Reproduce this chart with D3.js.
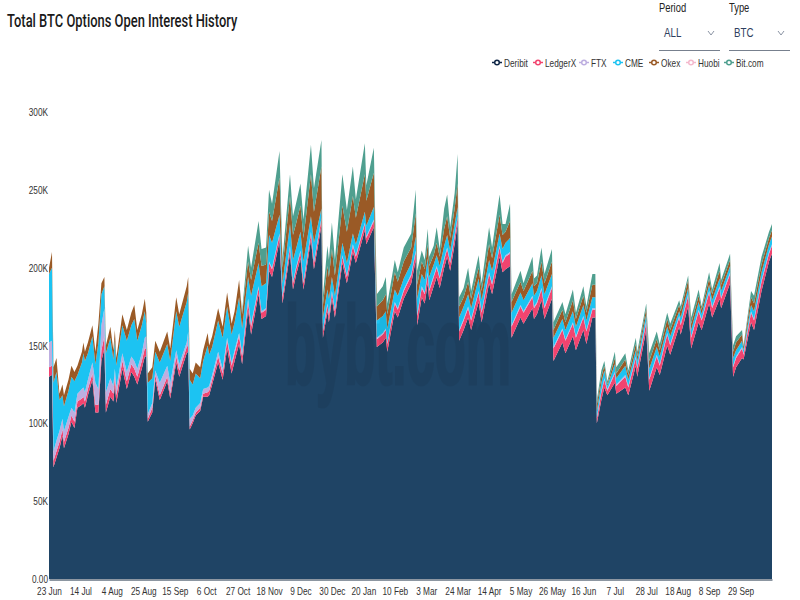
<!DOCTYPE html>
<html><head><meta charset="utf-8">
<style>html,body{margin:0;padding:0;background:#fff}svg{display:block}text{font-family:"Liberation Sans",sans-serif}</style>
<script src="https://cdnjs.cloudflare.com/ajax/libs/d3/7.8.5/d3.min.js"></script>
</head><body><svg id="c" width="800" height="600"></svg>
<script>
const tickLabels=["23 Jun","14 Jul","4 Aug","25 Aug","15 Sep","6 Oct","27 Oct","18 Nov","9 Dec","30 Dec","20 Jan","10 Feb","3 Mar","24 Mar","14 Apr","5 May","26 May","16 Jun","7 Jul","28 Jul","18 Aug","8 Sep","29 Sep"];
const yTicks=[0,50,100,150,200,250,300];
const seriesNames=["Deribit","LedgerX","FTX","CME","Okex","Huobi","Bit.com"];
const dayIndex=[0,2,3,5,7,9,10,13,15,17,
19,22,23,24,26,29,31,33,35,37,
38,41,43,44,45,49,52,55,57,59,
62,64,65,66,69,71,74,79,81,85,
87,92,93,94,96,98,101,103,106,107,
109,113,116,119,122,124,127,129,133,135,
140,142,145,147,149,154,156,161,163,165,
168,170,175,177,182,183,186,187,189,191,
196,199,203,205,211,212,217,219,223,225,
226,231,233,237,242,245,246,249,251,253,
254,257,259,261,264,266,268,271,273,274,
277,280,282,287,289,294,296,301,303,305,
308,309,315,317,323,324,326,329,331,336,
337,343,345,350,352,357,359,363,365,366,
369,371,373,378,379,385,387,392,393,399,
401,406,408,413,415,421,422,427,429,434,
436,441,443,448,449,455,457,459,463,464,
469,471,476,481,483];
const deribit=[130,131,72,78,84,92,84,93,101,97,
110,112,113,110,118,128,107,107,140,148,
107,117,114,125,113,135,122,133,130,125,
135,143,143,101,107,128,115,127,116,139,
130,145,146,96,100,105,108,117,117,118,
125,139,128,148,132,140,151,138,173,157,
183,167,169,198,194,217,177,209,186,195,
206,186,218,199,227,155,172,165,180,168,
203,190,210,203,224,215,226,149,152,155,
146,172,168,180,190,205,163,181,177,190,
179,188,194,187,200,207,198,215,228,153,
160,168,160,178,165,190,183,207,197,199,
201,155,168,164,174,167,170,179,167,180,
140,152,145,156,147,160,151,168,168,100,
115,123,118,126,119,123,118,137,130,160,
121,136,131,150,144,162,157,175,148,165,
160,177,168,180,174,190,130,136,142,141,
165,160,185,204,209];
const ledgerX=[6,6,4,4,4,4,4,4,4,4,
4,4,4,4,4,4,5,5,7,8,
5,5,5,5,5,5,5,5,5,5,
5,5,5,2,3,3,3,3,3,4,
4,4,4,2,2,2,2,2,3,3,
3,4,4,5,5,5,5,5,5,5,
4,4,4,5,5,4,4,4,4,4,
4,4,4,4,4,4,4,4,4,4,
4,4,4,4,4,4,4,5,5,5,
5,5,5,5,5,5,6,6,6,6,
6,6,6,6,5,5,5,5,4,6,
6,6,6,6,6,6,6,6,6,8,
8,7,7,7,7,7,7,7,7,7,
8,8,8,8,8,8,8,5,5,3,
5,5,3,6,5,7,5,5,5,5,
7,7,6,7,6,6,6,7,7,7,
6,7,6,7,6,6,6,6,6,3,
6,6,6,5,5];
const ftx=[16,16,6,7,7,7,7,7,5,6,
5,6,6,6,6,7,14,10,16,18,
8,7,5,5,5,5,6,5,5,5,
5,7,8,3,3,3,8,7,7,4,
4,3,9,5,3,3,3,3,3,3,
3,3,3,2,2,2,2,2,2,2,
1,1,1,1,1,1,1,1,1,1,
1,1,1,1,1,1,1,1,1,1,
1,1,1,1,1,1,1,1,1,1,
1,1,1,1,1,1,1,1,1,1,
1,1,1,1,1,1,1,1,1,1,
1,1,1,1,1,1,1,1,1,1,
1,1,1,1,1,1,1,1,1,1,
1,1,1,1,1,1,1,1,1,1,
1,1,1,1,1,1,1,1,1,1,
1,1,1,1,1,1,1,1,1,1,
1,1,1,1,1,1,1,1,1,1,
1,1,1,1,1];
const cme=[44,47,44,44,20,15,16,17,20,20,
12,17,22,20,17,17,12,30,20,14,
25,26,17,19,14,18,20,20,27,18,
18,17,8,20,16,12,13,14,14,25,
24,26,25,25,20,22,16,18,27,20,
18,20,20,20,18,18,23,16,14,18,
15,16,16,17,16,12,8,14,14,12,
12,13,10,12,6,8,9,10,9,9,
8,8,7,7,7,7,8,11,11,11,
9,8,8,7,7,9,10,8,8,9,
8,7,7,7,8,8,7,7,6,8,
8,8,7,8,7,8,8,8,8,8,
9,8,8,7,8,7,7,8,8,8,
6,6,6,7,6,7,6,7,7,4,
5,5,2,5,4,6,4,4,4,4,
6,5,5,4,5,3,4,4,4,5,
3,4,4,5,4,4,5,4,4,2,
4,5,5,5,5];
const okex=[4,10,10,9,4,7,7,7,7,6,
6,7,7,6,7,7,8,12,7,6,
5,7,6,6,5,7,7,8,9,7,
7,8,7,6,7,7,7,8,8,9,
8,10,10,7,7,7,7,7,8,6,
7,8,7,9,7,7,11,9,10,10,
13,13,12,15,14,24,10,18,16,16,
17,15,27,20,27,8,15,14,18,13,
24,20,24,17,24,16,22,9,10,11,
9,11,9,11,10,15,9,8,7,9,
7,6,8,6,11,12,8,10,15,7,
6,8,6,7,6,10,8,12,9,7,
11,7,7,6,8,6,5,9,7,8,
5,6,5,7,5,6,5,8,8,4,
4,3,1,4,3,4,3,4,3,4,
5,5,4,5,4,4,4,5,4,4,
3,4,4,5,4,4,4,5,4,2,
5,5,5,4,4];
const huobi=[0,0,0,0,0,0,0,0,0,0,
0,0,0,0,0,0,0,0,0,0,
0,0,0,0,0,0,0,0,0,0,
0,0,0,0,0,0,0,0,0,0,
0,0,0,0,0,0,0,0,0,0,
0,0,0,0,0,0,0,0,0,0,
0,0,0,0,0,0,0,0,0,0,
0,0,0,0,0,0,0,0,0,0,
0,0,0,0,0,0,0,0,0,0,
0,0,0,0,0,0,0,0,0,0,
0,0,0,0,0,0,0,0,0,0,
0,0,0,0,0,0,0,0,0,0,
0,0,0,0,0,0,0,0,0,0,
0,0,0,0,0,0,0,0,0,0,
0,0,0,0,0,0,0,0,0,0,
0,0,0,0,0,0,0,0,0,0,
0,0,0,0,0,0,0,0,0,0,
0,0,0,0,0];
const bitcom=[0,0,0,0,0,0,0,0,0,0,
0,0,0,0,0,0,0,0,0,0,
0,0,0,0,0,0,0,0,0,0,
0,0,0,0,0,0,0,0,0,0,
0,0,0,0,0,0,0,0,0,0,
0,0,0,0,0,0,0,2,10,8,
14,11,11,14,11,17,6,14,12,13,
14,12,19,15,17,6,13,11,17,10,
20,14,19,12,20,10,16,8,9,11,
7,8,6,9,9,15,9,7,6,10,
6,6,10,5,13,14,7,10,19,6,
6,9,5,8,5,11,7,13,7,5,
11,5,7,5,9,5,5,9,6,8,
5,5,5,7,4,6,4,7,7,3,
4,3,2,4,4,4,3,4,3,3,
5,5,4,4,4,3,3,3,4,4,
2,4,3,5,3,4,4,4,3,1,
4,5,5,4,4];
const seriesValues=[deribit,ledgerX,ftx,cme,okex,huobi,bitcom];
const fillColors=["#1f4465","#f2446f","#bdaee0","#1cc3f2","#9a5a26","#f4b9cd","#4f9f8f"];
const markColors=["#0f2747","#f2446f","#bdaee0","#1cc3f2","#9a5a26","#f4b9cd","#4f9f8f"];
const legendMarkX=[497,538,584,618,654,691,729];

const svg=d3.select("#c");
const x=d3.scaleLinear().domain([0,483]).range([49,772]);
const y=d3.scaleLinear().domain([0,300]).range([579,112]);
const rows=dayIndex.map((d,i)=>{const r={day:d};seriesNames.forEach((n,k)=>r[n]=seriesValues[k][i]);return r;});
const stacked=d3.stack().keys(seriesNames)(rows);
const area=d3.area().x(d=>x(d.data.day)).y0(d=>y(d[0])).y1(d=>y(d[1]));
svg.append("g").selectAll("path").data(stacked).join("path")
  .attr("d",area).attr("fill",(d,i)=>fillColors[i]).attr("stroke","none");

// watermark
svg.append("g").attr("opacity",0.06).append("text").attr("class","wm").attr("x",285).attr("y",384).attr("textLength",226).attr("lengthAdjust","spacingAndGlyphs")
  .attr("font-size",112).attr("font-weight","bold").attr("fill","#000").attr("stroke","#000").attr("stroke-width",3).text("bybt.com");

// axes
const xAxis=d3.axisBottom(x).tickValues(tickLabels.map((t,i)=>i*21)).tickFormat((d)=>tickLabels[d/21]).tickSize(0).tickPadding(8);
const gx=svg.append("g").attr("transform","translate(0,579.5)").call(xAxis);
gx.select(".domain").attr("stroke","#1b2f45").attr("stroke-width",1);
gx.selectAll("text").attr("font-size",11).attr("fill","#333").style("font-family","'Liberation Sans',sans-serif");
const yAxis=d3.axisLeft(y).tickValues(yTicks).tickFormat(d=>d===0?"0.00":d+"K").tickSize(0).tickPadding(1);
const gy=svg.append("g").attr("transform","translate(49,0)").call(yAxis);
gy.select(".domain").attr("opacity",0);
gy.selectAll("text").attr("font-size",11).attr("fill","#333").style("font-family","'Liberation Sans',sans-serif");

// title
svg.append("text").attr("x",7).attr("y",27).attr("font-size",19).attr("font-weight",500).attr("fill","#1a1a1a").style("font-family","Roboto,sans-serif").attr("data-f",0.68).text("Total BTC Options Open Interest History");

// selects
[["Period","ALL",659,720],["Type","BTC",729,790]].forEach(([lab,val,a,b])=>{
  svg.append("text").attr("x",a).attr("y",12).attr("font-size",12.5).attr("fill","#222").text(lab);
  svg.append("text").attr("x",a+5).attr("y",37).attr("font-size",13).attr("fill","#2f3f60").text(val);
  const c=b-9;
  svg.append("path").attr("d",`M${c-3},31 L${c},35 L${c+3},31`).attr("fill","none").attr("stroke","#8a93a3").attr("stroke-width",1);
  svg.append("line").attr("x1",a).attr("x2",b).attr("y1",50.5).attr("y2",50.5).attr("stroke","#77808e").attr("stroke-width",1);
});

// legend
const lg=svg.append("g").selectAll("g").data(seriesNames).join("g").attr("transform",(d,i)=>`translate(${legendMarkX[i]},62.5)`);
lg.append("line").attr("x1",-5).attr("x2",5).attr("stroke",(d,i)=>markColors[i]).attr("stroke-width",1.5);
lg.append("circle").attr("r",2.3).attr("fill","#fff").attr("stroke",(d,i)=>markColors[i]).attr("stroke-width",1.5);
lg.append("text").attr("x",7).attr("y",4).attr("font-size",11).attr("fill","#333").text(d=>d);

// condensed lettering, as the installed fonts have no narrow cut
svg.selectAll("text").filter(function(){return !this.classList.contains("wm");}).each(function(){
  const t=d3.select(this), n=this.getComputedTextLength();
  t.attr("textLength",n*(+t.attr("data-f")||0.75)).attr("lengthAdjust","spacingAndGlyphs");
});
</script></body></html>
